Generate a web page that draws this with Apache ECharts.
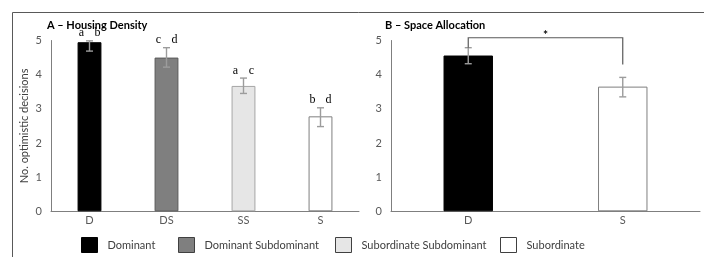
<!DOCTYPE html>
<html><head><meta charset="utf-8">
<script src="https://cdn.jsdelivr.net/npm/echarts@6/dist/echarts.min.js"></script>
<style>html,body{margin:0;padding:0;background:#fff}#c{width:704px;height:257px}</style>
</head><body><div id="c"></div>
<script>
const catsA = ['D', 'DS', 'SS', 'S'];
const meanA = [4.95, 4.50, 3.67, 2.78];
const lowA = [4.69, 4.22, 3.45, 2.48];
const highA = [4.99, 4.79, 3.90, 3.03];
const lettersLeftA = ['a', 'c', 'a', 'b'];
const lettersRightA = ['b', 'd', 'c', 'd'];
const catsB = ['D', 'S'];
const meanB = [4.56, 3.65];
const lowB = [4.32, 3.35];
const highB = [4.79, 3.92];
const bracketB = [5.08, 4.79, 4.30]; // level, left end, right end
const groupNames = ['Dominant', 'Dominant Subdominant', 'Subordinate Subdominant', 'Subordinate'];
const yTicks = [0, 1, 2, 3, 4, 5];

const fills = ['#000000', '#7f7f7f', '#e6e6e6', '#ffffff'];
const borders = ['#000000', '#5a5a5a', '#a6a6a6', '#7f7f7f'];
const font = 'Lato, "Open Sans", sans-serif';
const tickColor = '#595959';

function oneHot(arr, i) { return arr.map((v, j) => j === i ? v : '-'); }

const chart = echarts.init(document.getElementById('c'));
const series = [];
groupNames.forEach((n, i) => {
  series.push({
    name: n, type: 'bar', xAxisIndex: 0, yAxisIndex: 0, stack: 'a', barWidth: '31%',
    data: oneHot(meanA, i),
    itemStyle: { color: fills[i], borderColor: borders[i], borderWidth: 1 }
  });
});
const bGroup = [0, 3];
bGroup.forEach((g, i) => {
  series.push({
    name: groupNames[g], type: 'bar', xAxisIndex: 1, yAxisIndex: 1, stack: 'b', barWidth: '32%',
    data: oneHot(meanB, i),
    itemStyle: { color: fills[g], borderColor: borders[g], borderWidth: 1 }
  });
});
function errRender(params, api) {
  const x = api.value(0), lo = api.coord([x, api.value(1)]), hi = api.coord([x, api.value(2)]);
  const w = 3.5, st = { stroke: '#9c9c9c', lineWidth: 1.4 };
  return { type: 'group', children: [
    { type: 'line', shape: { x1: lo[0], y1: lo[1], x2: hi[0], y2: hi[1] }, style: st },
    { type: 'line', shape: { x1: lo[0] - w, y1: lo[1], x2: lo[0] + w, y2: lo[1] }, style: st },
    { type: 'line', shape: { x1: hi[0] - w, y1: hi[1], x2: hi[0] + w, y2: hi[1] }, style: st }
  ]};
}
series.push({ type: 'custom', xAxisIndex: 0, yAxisIndex: 0, renderItem: errRender, clip: false, z: 5,
  data: catsA.map((c, i) => [i, lowA[i], highA[i]]) });
series.push({ type: 'custom', xAxisIndex: 1, yAxisIndex: 1, renderItem: errRender, clip: false, z: 5,
  data: catsB.map((c, i) => [i, lowB[i], highB[i]]) });
series.push({ type: 'custom', xAxisIndex: 0, yAxisIndex: 0, clip: false, z: 6,
  data: catsA.map((c, i) => [i, highA[i]]),
  renderItem: function (params, api) {
    const p = api.coord([api.value(0), api.value(1)]);
    const st = { fill: '#000', font: '12px "Liberation Serif", "DejaVu Serif", serif', textAlign: 'center', textVerticalAlign: 'middle' };
    return { type: 'group', children: [
      { type: 'text', x: p[0] - 8, y: p[1] - 7.5, style: Object.assign({ text: lettersLeftA[params.dataIndex] }, st) },
      { type: 'text', x: p[0] + 8, y: p[1] - 7.5, style: Object.assign({ text: lettersRightA[params.dataIndex] }, st) }
    ]};
  } });
series.push({ type: 'custom', xAxisIndex: 1, yAxisIndex: 1, clip: false, z: 6,
  data: [[0, 1, bracketB[0], bracketB[1], bracketB[2]]],
  renderItem: function (params, api) {
    const a = api.coord([api.value(0), api.value(3)]);
    const top = api.coord([api.value(0), api.value(2)])[1];
    const b = api.coord([api.value(1), api.value(4)]);
    return { type: 'group', children: [
      { type: 'polyline', shape: { points: [[a[0], a[1]], [a[0], top], [b[0], top], [b[0], b[1]]] },
        style: { stroke: '#5a5a5a', lineWidth: 1.2, fill: null } },
      { type: 'text', x: (a[0] + b[0]) / 2, y: top - 3, style: { text: '*', fill: '#000', font: 'bold 12px ' + font, textAlign: 'center', textVerticalAlign: 'middle' } }
    ]};
  } });

const yAxisBase = {
  type: 'value', min: yTicks[0], max: yTicks[yTicks.length - 1], interval: 1,
  splitLine: { show: false }, axisTick: { show: false },
  axisLine: { show: true, lineStyle: { color: '#7f7f7f', width: 1 } },
  axisLabel: { color: tickColor, fontSize: 11, fontFamily: font, margin: 9 }
};
const xAxisBase = {
  type: 'category', axisTick: { show: false },
  axisLine: { show: true, lineStyle: { color: '#7f7f7f', width: 1 } },
  axisLabel: { color: tickColor, fontSize: 11, fontFamily: font, margin: 4 }
};
const legendPos = [76, 173, 330, 495];
chart.setOption({
  animation: false,
  backgroundColor: '#fff',
  title: [
    { text: 'A – Housing Density', left: 42, top: 15, textStyle: { fontSize: 11, fontWeight: 'bold', color: '#000', fontFamily: font } },
    { text: 'B – Space Allocation', left: 380, top: 15, textStyle: { fontSize: 11, fontWeight: 'bold', color: '#000', fontFamily: font } }
  ],
  grid: [
    { left: 51, width: 308, top: 40.5, height: 170.8 },
    { left: 391, width: 309, top: 40.5, height: 170.8 }
  ],
  xAxis: [
    Object.assign({ gridIndex: 0, data: catsA }, xAxisBase),
    Object.assign({ gridIndex: 1, data: catsB }, xAxisBase)
  ],
  yAxis: [
    Object.assign({ gridIndex: 0, name: 'No. optimistic decisions', nameLocation: 'middle', nameGap: 21,
      nameTextStyle: { color: '#404040', fontSize: 11, fontFamily: font } }, yAxisBase),
    Object.assign({ gridIndex: 1 }, yAxisBase)
  ],
  legend: groupNames.map((n, i) => ({
    left: legendPos[i], top: 232, itemWidth: 16, itemHeight: 15, selectedMode: false,
    textStyle: { color: '#404040', fontSize: 11, fontFamily: font, padding: [0, 0, 0, 5] },
    data: [{ name: n, icon: 'rect', itemStyle: { color: fills[i], borderColor: i === 0 ? '#000' : '#404040', borderWidth: 1 } }]
  })),
  graphic: [
    { type: 'polyline', shape: { points: [[12.5, 257], [12.5, 12.5], [704, 12.5]] }, style: { stroke: '#595959', lineWidth: 1, fill: null } }
  ],
  series: series
});
</script></body></html>
